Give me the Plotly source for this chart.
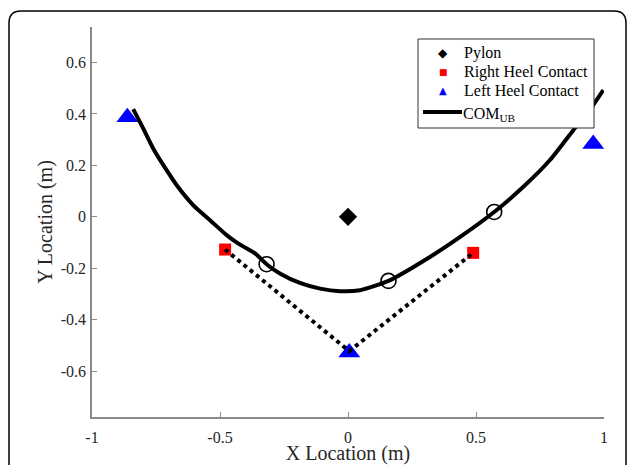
import plotly.graph_objects as go

# ---- data ----
pylon_x = [0.0]
pylon_y = [0.0]

right_heel_x = [-0.480, 0.489]
right_heel_y = [-0.127, -0.140]

left_heel_x = [-0.862, 0.005, 0.958]
left_heel_y = [0.387, -0.527, 0.283]

com_x = [-0.839, -0.800, -0.761, -0.721, -0.669, -0.604, -0.539, -0.474, -0.428, -0.363, -0.318, -0.266,
         -0.188, -0.109, -0.031, 0.047, 0.158, 0.320, 0.438, 0.571, 0.685, 0.789, 0.880, 0.958, 0.997]
com_y = [0.419, 0.344, 0.266, 0.201, 0.123, 0.045, -0.013, -0.071, -0.104, -0.142, -0.184, -0.220,
         -0.257, -0.279, -0.289, -0.285, -0.249, -0.156, -0.078, 0.019, 0.117, 0.221, 0.337, 0.435, 0.493]

event_x = [-0.318, 0.158, 0.571]
event_y = [-0.184, -0.249, 0.019]

support_x = [-0.480, 0.005, 0.489]
support_y = [-0.127, -0.522, -0.140]

x_ticks = [-1, -0.5, 0, 0.5, 1]
x_tick_text = ["-1", "-0.5", "0", "0.5", "1"]
y_ticks = [-0.6, -0.4, -0.2, 0, 0.2, 0.4, 0.6]
y_tick_text = ["-0.6", "-0.4", "-0.2", "0", "0.2", "0.4", "0.6"]

legend_names = ["Pylon", "Right Heel Contact", "Left Heel Contact", "COM<sub>UB</sub>"]
legend_symbols = ["◆", "■", "▲", None]
legend_colors = ["black", "#ff0000", "#0000ff", "black"]
legend_symbol_sizes = [12, 9, 10, None]

FONT = "Liberation Serif"
W, H = 629, 465
ML, MR, MT, MB = 92, 25, 27, 48
PW, PH = W - ML - MR, H - MT - MB

fig = go.Figure()

fig.add_trace(go.Scatter(x=left_heel_x, y=left_heel_y, mode="markers", name="Left Heel Contact",
                         marker=dict(symbol="triangle-up", size=19, color="#0000ff")))
fig.add_trace(go.Scatter(x=right_heel_x, y=right_heel_y, mode="markers", name="Right Heel Contact",
                         marker=dict(symbol="square", size=12, color="#ff0000")))
fig.add_trace(go.Scatter(x=pylon_x, y=pylon_y, mode="markers", name="Pylon",
                         marker=dict(symbol="diamond", size=14, color="black")))
fig.add_trace(go.Scatter(x=com_x, y=com_y, mode="lines", name="COM UB",
                         line=dict(color="black", width=4, shape="spline", smoothing=0.6)))
fig.add_trace(go.Scatter(x=event_x, y=event_y, mode="markers", name="events",
                         marker=dict(symbol="circle-open", size=15, color="black", line=dict(width=1.6))))
fig.add_trace(go.Scatter(x=support_x, y=support_y, mode="lines", name="support",
                         line=dict(color="black", width=4, dash="4px,4px")))


def px_x(p):
    return (p - ML) / PW


def px_y(p):
    return (H - MB - p) / PH


# rounded frame around the figure
l, t, r, b, rad = 9, 11, 626, 480, 12
path = (f"M {px_x(l)} {px_y(t + rad)} "
        f"Q {px_x(l)} {px_y(t)} {px_x(l + rad)} {px_y(t)} "
        f"L {px_x(r - rad)} {px_y(t)} "
        f"Q {px_x(r)} {px_y(t)} {px_x(r)} {px_y(t + rad)} "
        f"L {px_x(r)} {px_y(b)} L {px_x(l)} {px_y(b)} Z")
fig.add_shape(type="path", xref="paper", yref="paper", path=path,
              line=dict(color="black", width=1.5), fillcolor="rgba(0,0,0,0)", layer="below")

# legend box (drawn manually for MATLAB-like compact spacing)
LB_L, LB_T, LB_R, LB_B = 418, 39, 594, 128
ROW_Y = [52.7, 71.7, 91.0, 112.0]
SYM_X = 443
TXT_X = 462
fig.add_shape(type="rect", xref="paper", yref="paper", layer="above",
              x0=px_x(LB_L), x1=px_x(LB_R), y0=px_y(LB_B), y1=px_y(LB_T),
              fillcolor="white", line=dict(color="#333333", width=1))
for name, sym, col, ssz, ry in zip(legend_names, legend_symbols, legend_colors, legend_symbol_sizes, ROW_Y):
    if sym is None:
        fig.add_shape(type="line", xref="paper", yref="paper", layer="above",
                      x0=px_x(SYM_X - 20), x1=px_x(SYM_X + 19), y0=px_y(ry), y1=px_y(ry),
                      line=dict(color=col, width=4))
        fig.add_annotation(x=px_x(TXT_X - 1), y=px_y(ry + 2), xref="paper", yref="paper",
                           text=name, showarrow=False, xanchor="left", yanchor="middle",
                           font=dict(family=FONT, size=16, color="black"))
    else:
        fig.add_annotation(x=px_x(SYM_X), y=px_y(ry), xref="paper", yref="paper",
                           text=sym, showarrow=False, xanchor="center", yanchor="middle",
                           font=dict(family="DejaVu Sans", size=ssz, color=col))
        fig.add_annotation(x=px_x(TXT_X), y=px_y(ry), xref="paper", yref="paper",
                           text=name, showarrow=False, xanchor="left", yanchor="middle",
                           font=dict(family=FONT, size=16, color="black"))

axis_common = dict(showgrid=False, zeroline=False, showline=True, linecolor="#8a8a8a", linewidth=1.5,
                   ticks="inside", ticklen=5, tickcolor="#8a8a8a", tickwidth=1,
                   tickfont=dict(family=FONT, size=16, color="#262626"),
                   mirror=False, automargin=False)

fig.update_xaxes(range=[-1, 1], tickvals=x_ticks, ticktext=x_tick_text, ticklabelstandoff=5,
                 title=dict(text="X Location (m)", font=dict(family=FONT, size=20, color="#262626"), standoff=4),
                 **axis_common)
fig.update_yaxes(range=[-0.778, 0.738], tickvals=y_ticks, ticktext=y_tick_text, ticklabelstandoff=1,
                 title=dict(text="Y Location (m)", font=dict(family=FONT, size=20, color="#262626"), standoff=3),
                 **axis_common)

fig.update_layout(
    width=W, height=H,
    margin=dict(l=ML, r=MR, t=MT, b=MB, autoexpand=False),
    paper_bgcolor="white", plot_bgcolor="white",
    showlegend=False,
    font=dict(family=FONT),
)

fig.write_html("out.html", config={"displayModeBar": False},
               post_script="document.body.style.margin='0';document.body.style.overflow='hidden';")
